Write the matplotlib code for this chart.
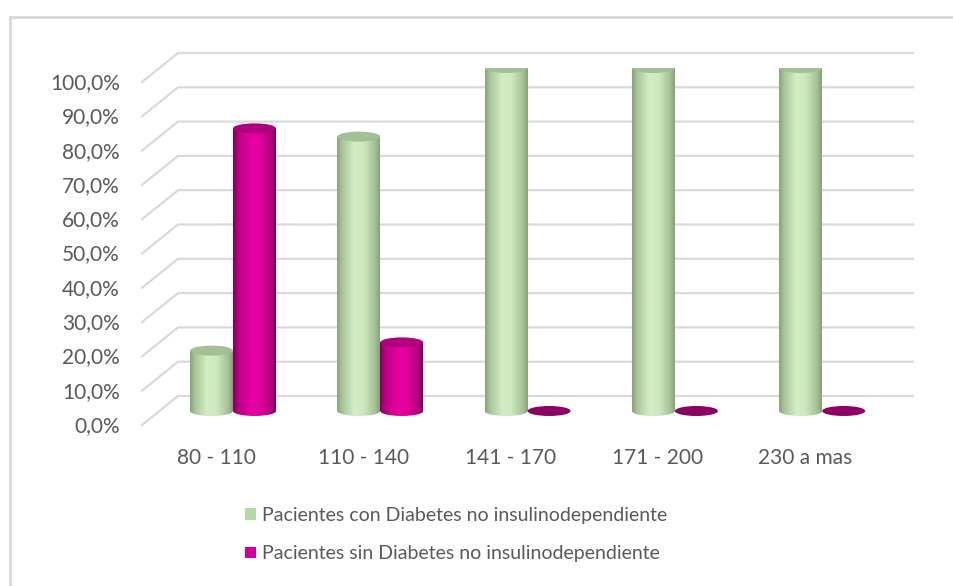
import numpy as np
import matplotlib.pyplot as plt
from matplotlib.colors import LinearSegmentedColormap
from matplotlib.patches import Ellipse, Patch
from matplotlib.lines import Line2D

# Datos
rangos = ['80 - 110', '110 - 140', '141 - 170', '171 - 200', '230 a mas']
con_diabetes = [17.6, 80.0, 100.0, 100.0, 100.0]
sin_diabetes = [82.4, 20.0, 0.0, 0.0, 0.0]
ticks = list(range(0, 101, 10))
tick_labels = [f'{t:.1f}%'.replace('.', ',') for t in ticks]
series = ['Pacientes con Diabetes no insulinodependiente',
          'Pacientes sin Diabetes no insulinodependiente']

plt.rcParams['font.family'] = ['Lato', 'DejaVu Sans']
txt = '#595959'
grid_c = '#d9d9d9'

W, H = 954, 586
fig = plt.figure(figsize=(W / 100, H / 100), dpi=100)

# pixels per category and per percent
sx, sy = 147.3, 3.43
def dx(px):
    return px / sx
def dy(px):
    return px / sy

ymin = -6
ax = fig.add_axes([(233 - 0.5 * sx) / W, (H - 411 + ymin * sy) / H,
                   5 * sx / W, (100 - ymin) * sy / H])

# cylinder shading
green_cmap = LinearSegmentedColormap.from_list('verde', [
    (0, '#88a17a'), (0.12, '#a9c69a'), (0.4, '#d3edc5'),
    (0.62, '#cde8bf'), (0.88, '#a6c398'), (1, '#86a079')])
mag_cmap = LinearSegmentedColormap.from_list('magenta', [
    (0, '#7f0058'), (0.15, '#c2008a'), (0.45, '#e800a2'),
    (0.65, '#de009b'), (0.88, '#b3007e'), (1, '#80005a')])
grad = np.linspace(0, 1, 256).reshape(1, -1)

w = dx(43)
eh = dy(10)

def cylinder(xc, v, cmap, top):
    x0 = xc - w / 2
    if v > 0:
        body = ax.bar(xc, v, width=w, color='none', linewidth=0)[0]
        base = Ellipse((xc, 0), w, eh, facecolor='none', edgecolor='none')
        ax.add_patch(base)
        for clip in (body, base):
            im = ax.imshow(grad, extent=[x0, x0 + w, -eh, v], cmap=cmap,
                           aspect='auto', zorder=2, interpolation='bilinear')
            im.set_clip_path(clip)
    ax.add_patch(Ellipse((xc, v), w, eh, facecolor=top, edgecolor='none',
                         zorder=3))

# back wall gridlines and the slanted side wall lines
off_back = dy(15)
off_front = dy(14)
x_wall, x_front, x_end = dx(178 - 233), dx(142 - 233), dx(913 - 233)
for t in ticks:
    ax.plot([x_front, x_wall, x_end], [t - off_front, t + off_back, t + off_back],
            color=grid_c, lw=1.6, zorder=0, clip_on=False)

for i in range(len(rangos)):
    cylinder(i - w / 2, con_diabetes[i], green_cmap, '#a3bf95')
    top_m = '#b0007d' if sin_diabetes[i] > 0 else '#8c0063'
    cylinder(i + w / 2, sin_diabetes[i], mag_cmap, top_m)

# axis labels on the front plane
for t, lab in zip(ticks, tick_labels):
    ax.text(dx(120 - 233), t - dy(15), lab, ha='right', va='center',
            fontsize=15, color=txt)
for i, lab in enumerate(rangos):
    ax.text(i - dx(17), -dy(47), lab, ha='center', va='center',
            fontsize=15, color=txt)

ax.set_xlim(-0.5, 4.5)
ax.set_ylim(ymin, 100)
ax.axis('off')

# chart border
fig.add_artist(Line2D([10 / W, 10 / W], [0, 1 - 17 / H], color='#d9d9d9',
                      lw=2, transform=fig.transFigure))
fig.add_artist(Line2D([10 / W, 1], [1 - 17 / H, 1 - 17 / H], color='#d9d9d9',
                      lw=2, transform=fig.transFigure))

handles = [Patch(facecolor='#b5d9a5', edgecolor='none'),
           Patch(facecolor='#cc0099', edgecolor='none')]
fig.legend(handles, series, loc='upper left',
           bbox_to_anchor=(245 / W, 1 - 507 / H), frameon=False,
           fontsize=14, labelcolor=txt, handlelength=0.55, handleheight=0.55,
           handletextpad=0.35, labelspacing=1.1, borderpad=0, borderaxespad=0)

fig.savefig('out.png', dpi=100)
